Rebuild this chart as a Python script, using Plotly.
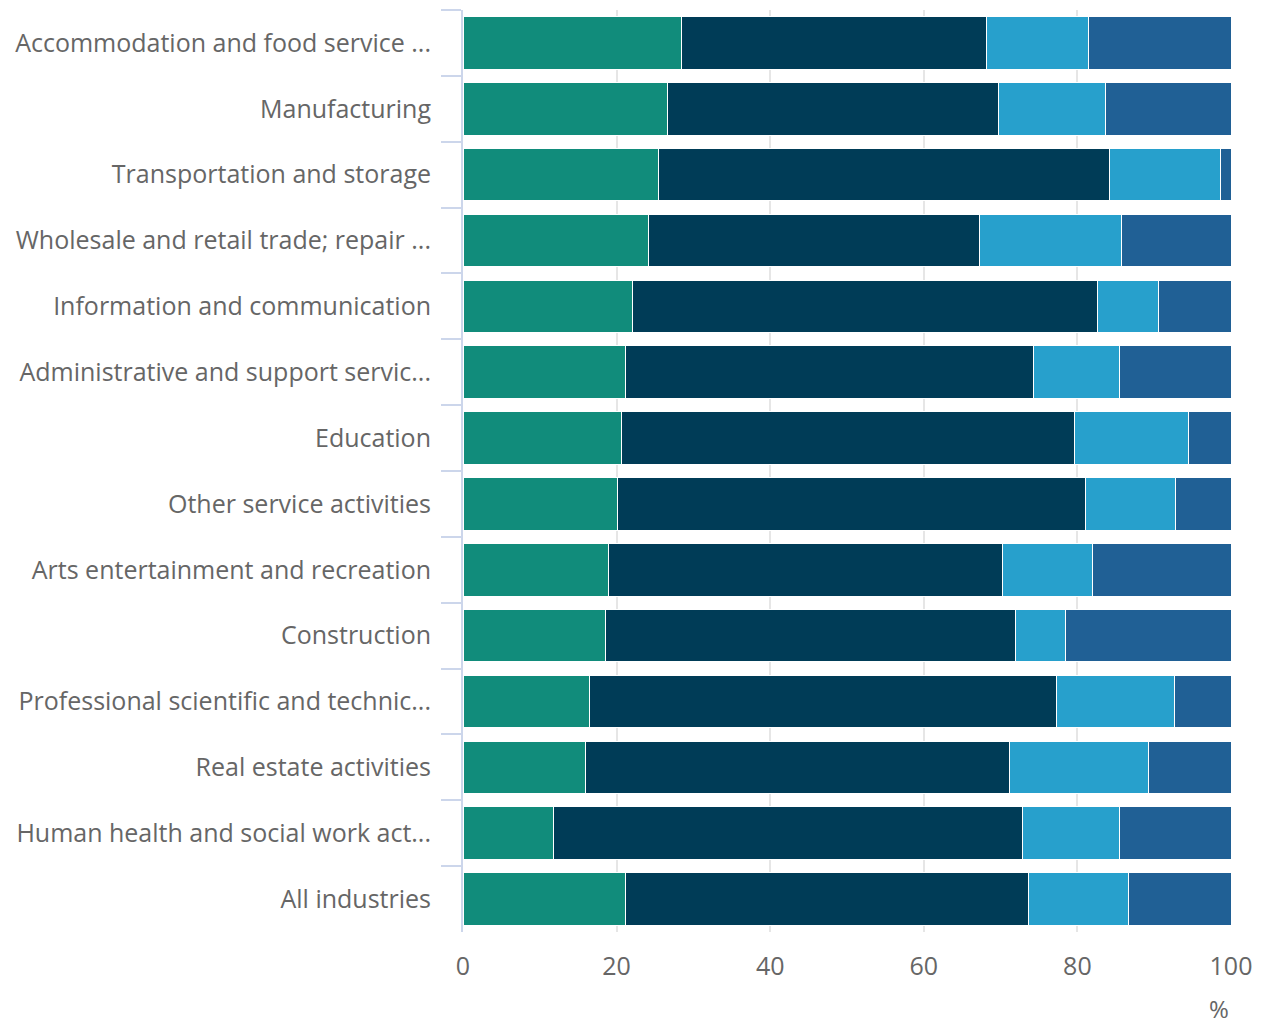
import plotly.graph_objects as go

categories = [
    "Accommodation and food service ...",
    "Manufacturing",
    "Transportation and storage",
    "Wholesale and retail trade; repair ...",
    "Information and communication",
    "Administrative and support servic...",
    "Education",
    "Other service activities",
    "Arts entertainment and recreation",
    "Construction",
    "Professional scientific and technic...",
    "Real estate activities",
    "Human health and social work act...",
    "All industries",
]

# segment shares (percent)
series_1 = [28.5, 26.6, 25.4, 24.2, 22.1, 21.2, 20.7, 20.1, 18.9, 18.6, 16.5, 16.0, 11.8, 21.2]
series_2 = [39.7, 43.1, 58.8, 43.1, 60.5, 53.1, 58.9, 61.0, 51.4, 53.4, 60.8, 55.2, 61.1, 52.4]
series_3 = [13.2, 14.0, 14.4, 18.5, 7.9, 11.2, 14.9, 11.7, 11.7, 6.5, 15.3, 18.1, 12.6, 13.1]
series_4 = [18.6, 16.3, 1.4, 14.2, 9.5, 14.5, 5.5, 7.2, 18.0, 21.5, 7.4, 10.7, 14.5, 13.3]

series_names = ["Series 1", "Series 2", "Series 3", "Series 4"]
colors = ["#118c7b", "#003c57", "#27a0cc", "#206095"]

fig = go.Figure()
for name, vals, col in zip(series_names, [series_1, series_2, series_3, series_4], colors):
    fig.add_trace(go.Bar(
        y=categories, x=vals, name=name, orientation="h",
        marker=dict(color=col, line=dict(color="#ffffff", width=1)),
        showlegend=False,
    ))

fig.update_layout(
    barmode="stack",
    bargap=0.2,
    width=1245, height=1016,
    margin=dict(l=455, r=22, t=2, b=92),
    plot_bgcolor="#ffffff", paper_bgcolor="#ffffff",
    font=dict(family="Open Sans", size=25, color="#666666"),
)
fig.update_xaxes(
    range=[0, 100], tickvals=[0, 20, 40, 60, 80, 100],
    showgrid=True, gridcolor="#e6e6e6", gridwidth=2,
    zeroline=False, showline=False, ticks="",
    ticklabelstandoff=17,
    tickfont=dict(size=25, color="#666666"),
)
fig.update_yaxes(
    autorange="reversed",
    showline=True, linecolor="#ccd6eb", linewidth=2,
    ticks="outside", ticklen=20, tickwidth=2, tickcolor="#ccd6eb",
    tickson="boundaries", showgrid=False,
    ticklabelstandoff=25,
    tickfont=dict(size=25, color="#666666"),
)
fig.add_annotation(
    text="%", xref="paper", yref="paper", x=1, y=0, yshift=-76,
    xanchor="right", yanchor="middle", showarrow=False,
    font=dict(size=24, color="#666666"),
)
fig.write_html("out.html")
